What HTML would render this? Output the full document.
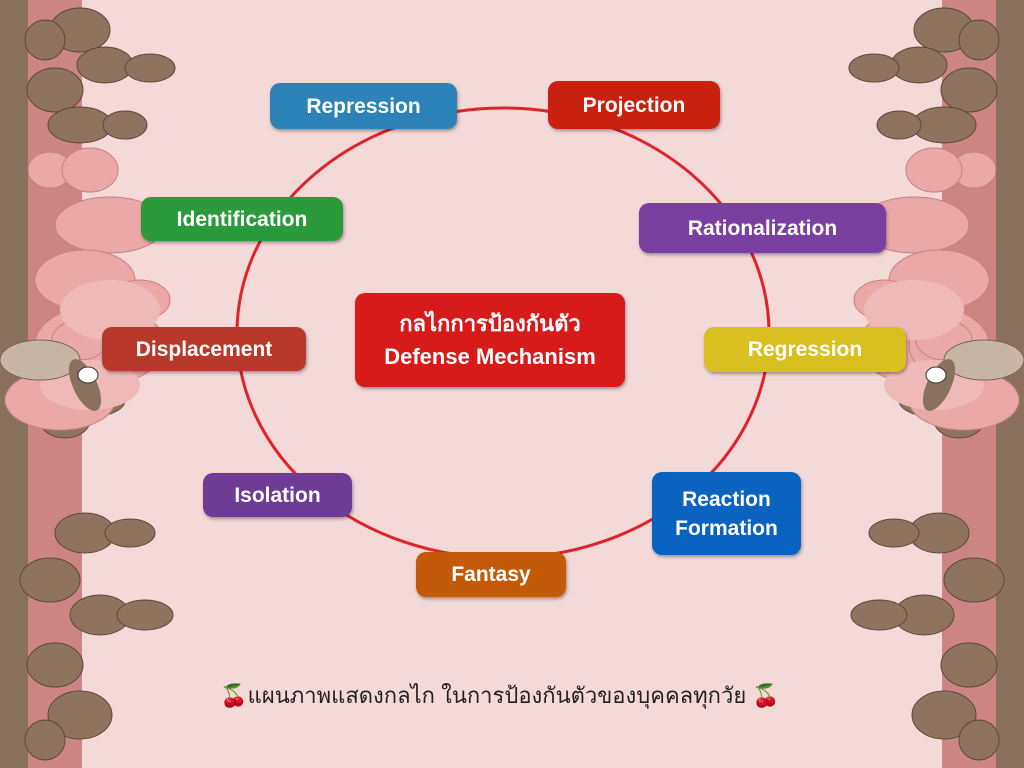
<!DOCTYPE html>
<html><head><meta charset="utf-8"><style>
html,body{margin:0;padding:0}
body{width:1024px;height:768px;position:relative;overflow:hidden;background:#f4d9d9;font-family:"Liberation Sans","DejaVu Sans",sans-serif}
.b{position:absolute;color:#fff;font-weight:bold;font-size:21px;display:flex;align-items:center;justify-content:center;text-align:center;border-radius:10px;box-shadow:1px 2px 3px rgba(0,0,0,.35);line-height:29px}
svg{position:absolute;left:0;top:0}
</style></head><body>
<svg width="1024" height="768">
<defs>
<g id="side">
<rect x="0" y="0" width="28" height="768" fill="#8a705f"/>
<rect x="28" y="0" width="54" height="768" fill="#cc8484"/>
<g fill="#8e735e" stroke="#5e4a3c" stroke-width="1">
<ellipse cx="80" cy="30" rx="30" ry="22"/><ellipse cx="45" cy="40" rx="20" ry="20"/>
<ellipse cx="105" cy="65" rx="28" ry="18"/><ellipse cx="150" cy="68" rx="25" ry="14"/>
<ellipse cx="55" cy="90" rx="28" ry="22"/>
<ellipse cx="80" cy="125" rx="32" ry="18"/><ellipse cx="125" cy="125" rx="22" ry="14"/>
<ellipse cx="65" cy="420" rx="25" ry="18"/><ellipse cx="95" cy="400" rx="30" ry="16"/>
<ellipse cx="85" cy="533" rx="30" ry="20"/><ellipse cx="130" cy="533" rx="25" ry="14"/>
<ellipse cx="50" cy="580" rx="30" ry="22"/>
<ellipse cx="100" cy="615" rx="30" ry="20"/><ellipse cx="145" cy="615" rx="28" ry="15"/>
<ellipse cx="55" cy="665" rx="28" ry="22"/>
<ellipse cx="80" cy="715" rx="32" ry="24"/><ellipse cx="45" cy="740" rx="20" ry="20"/>
</g>
<g fill="#eba8a8" stroke="#c98080" stroke-width="1">
<ellipse cx="50" cy="170" rx="22" ry="18"/><ellipse cx="90" cy="170" rx="28" ry="22"/>
<ellipse cx="110" cy="225" rx="55" ry="28"/>
<ellipse cx="85" cy="280" rx="50" ry="30"/>
<ellipse cx="100" cy="345" rx="65" ry="40"/><ellipse cx="60" cy="400" rx="55" ry="30"/>
<ellipse cx="140" cy="300" rx="30" ry="20"/>
<ellipse cx="85" cy="345" rx="30" ry="28"/>
<ellipse cx="80" cy="340" rx="28" ry="20"/>
</g>
<g fill="#f0b9b9"><ellipse cx="110" cy="310" rx="50" ry="30"/><ellipse cx="90" cy="385" rx="50" ry="25"/></g>
<ellipse cx="40" cy="360" rx="40" ry="20" fill="#c6b4a6" stroke="#7a6454"/>
<ellipse cx="85" cy="385" rx="12" ry="28" fill="#8a705f" transform="rotate(-25 85 385)"/>
<ellipse cx="88" cy="375" rx="10" ry="8" fill="#fff" stroke="#333"/>
</g>
</defs>
<use href="#side"/>
<use href="#side" transform="translate(1024 0) scale(-1 1)"/>
<ellipse cx="503" cy="333" rx="266" ry="225" fill="none" stroke="#e0232a" stroke-width="3"/>
</svg>
<div class="b" style="left:270px;top:83px;width:187px;height:46px;background:#2d83b8">Repression</div>
<div class="b" style="left:548px;top:81px;width:172px;height:48px;background:#c9200f">Projection</div>
<div class="b" style="left:141px;top:197px;width:202px;height:44px;background:#2a9a3c">Identification</div>
<div class="b" style="left:639px;top:203px;width:247px;height:50px;background:#7b3fa0">Rationalization</div>
<div class="b" style="left:355px;top:293px;width:270px;height:94px;background:#d71a1a;font-size:22px;line-height:33px">กลไกการป้องกันตัว<br>Defense Mechanism</div>
<div class="b" style="left:102px;top:327px;width:204px;height:44px;background:#b8382b">Displacement</div>
<div class="b" style="left:704px;top:327px;width:202px;height:45px;background:#d9bf1f">Regression</div>
<div class="b" style="left:203px;top:473px;width:149px;height:44px;background:#6f3c95">Isolation</div>
<div class="b" style="left:652px;top:472px;width:149px;height:83px;background:#0a63c0">Reaction<br>Formation</div>
<div class="b" style="left:416px;top:552px;width:150px;height:45px;background:#c25a0a">Fantasy</div>
<div style="position:absolute;left:200px;width:600px;top:678px;text-align:center;font-size:22px;color:#222">🍒แผนภาพแสดงกลไก ในการป้องกันตัวของบุคคลทุกวัย 🍒</div>
</body></html>
